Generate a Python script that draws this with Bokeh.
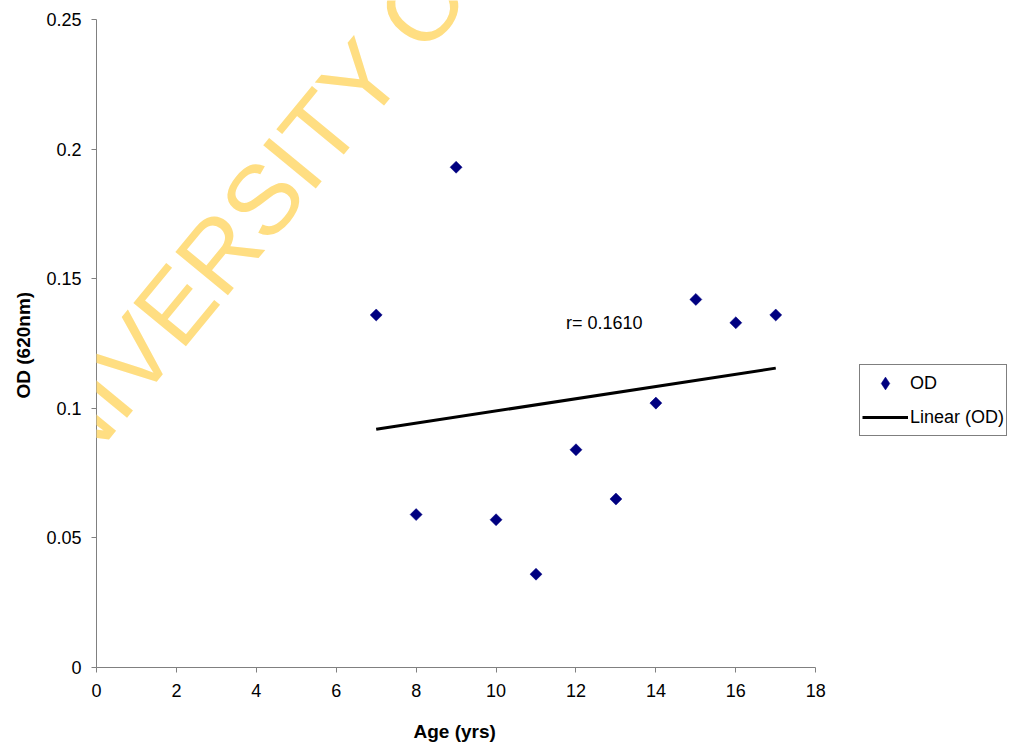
import math
from bokeh.plotting import figure
from bokeh.models import Range1d, FixedTicker, Label, Legend, LegendItem, Title
from bokeh.embed import file_html
from bokeh.resources import INLINE

# ---- data ----
age = [7, 8, 9, 10, 11, 12, 13, 14, 15, 16, 17]
od = [0.136, 0.059, 0.193, 0.057, 0.036, 0.084, 0.065, 0.102, 0.142, 0.133, 0.136]
trend_x = [7, 17]
trend_y = [0.0919, 0.1155]
x_ticks = [0, 2, 4, 6, 8, 10, 12, 14, 16, 18]
y_ticks = [0, 0.05, 0.1, 0.15, 0.2, 0.25]
y_tick_labels = ["0", "0.05", "0.1", "0.15", "0.2", "0.25"]
series_name = "OD"
trend_name = "Linear (OD)"
r_text = "r= 0.1610"
x_title = "Age (yrs)"
y_title = "OD (620nm)"
watermark = "UNIVERSITY OF CAPE TOWN"

FONT = "Liberation Sans"
AXIS_GRAY = "#808080"
NAVY = "#000080"

W, H = 1014, 746
LEFT, BOTTOM = 95, 79
# axis spans: 0..18 over 720 px, 0..0.25 over 648 px; the frame extends past
# them (to the canvas edge) so the legend and watermark are not clipped
X_END = 18 * (W - LEFT) / 720
Y_END = 0.25 * (H - BOTTOM) / 648

p = figure(width=W, height=H,
           x_range=Range1d(0, X_END), y_range=Range1d(0, Y_END),
           output_backend="svg", toolbar_location=None,
           min_border_left=LEFT, min_border_right=0,
           min_border_top=0, min_border_bottom=BOTTOM)
p.outline_line_color = None
p.xgrid.visible = False
p.ygrid.visible = False
p.background_fill_color = "white"

# axes
for ax in (p.xaxis[0], p.yaxis[0]):
    ax.axis_line_color = AXIS_GRAY
    ax.major_tick_line_color = AXIS_GRAY
    ax.minor_tick_line_color = None
    ax.major_tick_out = 5
    ax.major_tick_in = 0
    ax.major_label_text_font = FONT
    ax.major_label_text_font_size = "18px"
    ax.major_label_text_color = "black"

p.xaxis.ticker = FixedTicker(ticks=x_ticks)
p.xaxis.bounds = (x_ticks[0], x_ticks[-1])
p.xaxis.major_label_standoff = 11
# blank axis label: only reserves room so the title below sits lower
p.xaxis.axis_label = " "
p.xaxis.axis_label_text_font = FONT
p.xaxis.axis_label_text_font_size = "14px"
p.xaxis.axis_label_standoff = 0

p.yaxis.ticker = FixedTicker(ticks=y_ticks)
p.yaxis.bounds = (y_ticks[0], y_ticks[-1])
p.yaxis.major_label_overrides = {t: s for t, s in zip(y_ticks, y_tick_labels)}
p.yaxis.major_label_standoff = 10

# axis titles, centred on the 0..18 / 0..0.25 spans
xt = Title(text=x_title, align="left", offset=317, text_font=FONT,
           text_font_size="19px", text_font_style="bold", text_color="black",
           standoff=0)
p.add_layout(xt, "below")
yt = Title(text=y_title, align="left", offset=269, text_font=FONT,
           text_font_size="19px", text_font_style="bold", text_color="black",
           standoff=20)
p.add_layout(yt, "left")

# watermark
wm = Label(x=-2.325, y=0.0596, text=watermark, angle=math.radians(50.5),
           text_font=FONT, text_font_size="99px", text_color="#FFDE82",
           text_align="left", text_baseline="alphabetic", level="annotation")
p.add_layout(wm)

# data
sc = p.scatter(age, od, marker="square", angle=math.pi / 4, size=8.5,
               fill_color=NAVY, line_color=NAVY, line_width=0.5)
ln = p.line(trend_x, trend_y, line_color="black", line_width=3)
# legend swatch for the diamond marker (not drawn in the plot)
sw = p.scatter(age, od, marker="diamond", size=14,
               fill_color=NAVY, line_color=NAVY, line_width=0.5, visible=False)

rl = Label(x=11.75, y=0.1331, text=r_text, text_font=FONT,
           text_font_size="18px", text_baseline="middle", text_color="black")
p.add_layout(rl)

legend = Legend(items=[LegendItem(label=series_name, renderers=[sw]),
                       LegendItem(label=trend_name, renderers=[ln])],
                location=(763, 231),
                border_line_color="black", border_line_width=1,
                padding=2, spacing=2, margin=0,
                glyph_width=46, glyph_height=32, label_height=20,
                label_standoff=2,
                label_text_font=FONT, label_text_font_size="18px",
                label_text_color="black",
                background_fill_color="white", background_fill_alpha=1)
p.add_layout(legend)

open("out.html", "w").write(file_html(p, INLINE))
